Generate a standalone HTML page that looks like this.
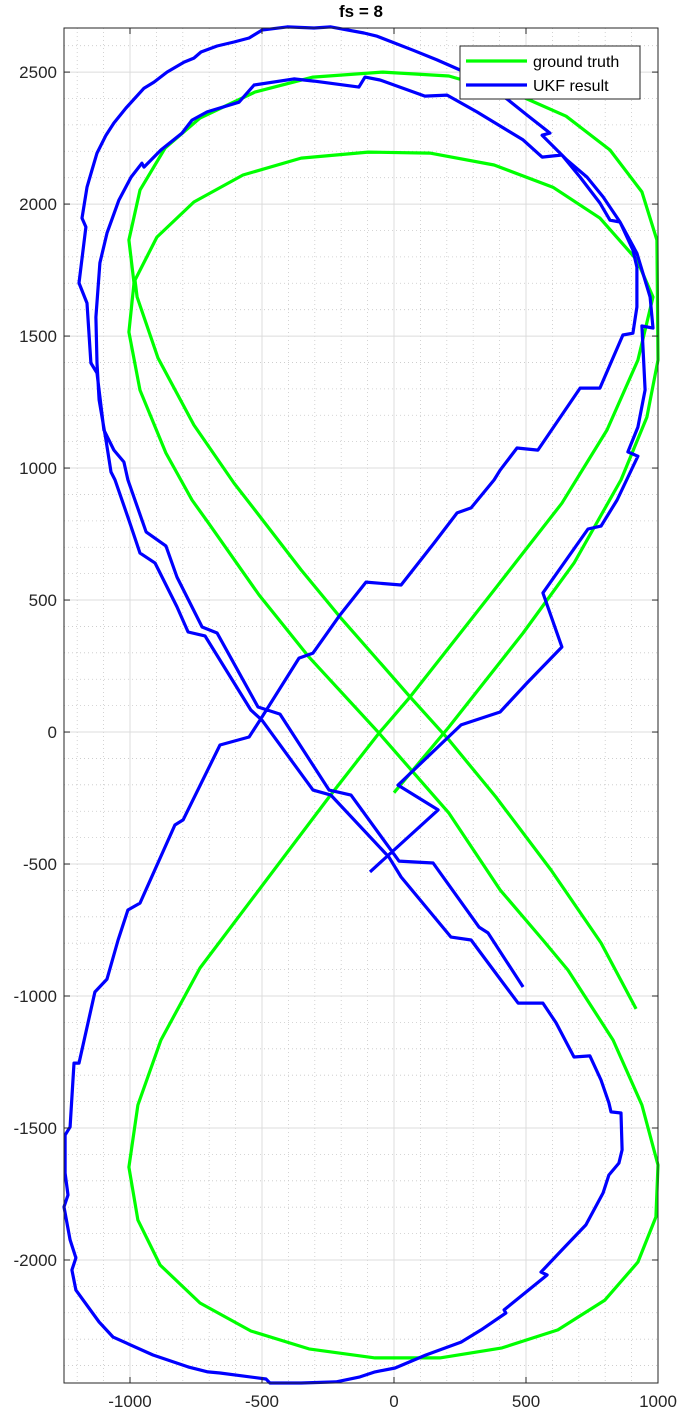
<!DOCTYPE html>
<html><head><meta charset="utf-8"><style>
html,body{margin:0;padding:0;background:#fff;}
svg{display:block;font-family:"Liberation Sans",Arial,sans-serif;}
</style></head><body>
<svg id="chart" width="682" height="1416" viewBox="0 0 682 1416" xmlns="http://www.w3.org/2000/svg">
<rect x="0" y="0" width="682" height="1416" fill="#fff"/>
<text x="361" y="17" text-anchor="middle" font-size="17" font-weight="bold" fill="#000">fs = 8</text>
<g id="grid"></g>
<g id="series"></g>
<g id="axes"></g>
<g id="legend">
<rect x="460" y="46" width="180" height="53" fill="#fff" stroke="#262626" stroke-width="1"/>
<line x1="466" y1="61" x2="527" y2="61" stroke="#00ff00" stroke-width="3.2"/>
<text x="533" y="67" font-size="16" fill="#000">ground truth</text>
<line x1="466" y1="85" x2="527" y2="85" stroke="#0000ff" stroke-width="3.2"/>
<text x="533" y="91" font-size="16" fill="#000">UKF result</text>
</g>
</svg>
<script>
const xTicks=[-1000,-500,0,500,1000];
const yTicks=[-2000,-1500,-1000,-500,0,500,1000,1500,2000,2500];
const gtX=[0,208,489,682,860,958,1000,996,939,818,652,496,208,-42,-307,-527,-735,-867,-962,-1004,-985,-1004,-962,-864,-765,-705,-511,-322,-57,208,402,564,659,830,939,1000,992,924,799,621,409,174,-72,-322,-542,-735,-886,-970,-1004,-970,-883,-735,-246,-57,61,356,636,807,924,981,920,780,602,379,136,-98,-352,-572,-758,-898,-981,-973,-894,-758,-606,-527,-352,-205,61,208,386,595,784,917];
const gtY=[-230,19,375,640,955,1193,1409,1864,2046,2205,2333,2402,2485,2500,2481,2424,2326,2212,2053,1864,1701,1515,1295,1057,879,795,519,284,-4,-307,-598,-788,-902,-1167,-1413,-1640,-1837,-2008,-2152,-2265,-2333,-2371,-2371,-2337,-2269,-2163,-2019,-1849,-1648,-1413,-1167,-894,-246,-4,133,508,867,1144,1409,1648,1788,1947,2064,2148,2193,2197,2174,2110,2008,1875,1712,1648,1417,1163,943,841,614,436,133,-30,-246,-523,-799,-1049];
const ukfX=[-91,167,15,254,402,504,636,564,735,784,845,924,886,924,951,939,981,970,920,856,818,780,705,636,561,489,314,201,117,-53,-110,-133,-303,-379,-530,-587,-708,-765,-803,-883,-947,-955,-996,-1042,-1087,-1114,-1129,-1125,-1117,-1091,-1072,-1057,-1008,-962,-905,-822,-780,-716,-542,-500,-307,-239,-19,27,216,292,371,470,564,614,682,742,784,814,822,860,864,852,814,792,727,636,557,580,417,424,330,254,121,4,-72,-129,-220,-352,-470,-485,-659,-705,-780,-913,-1064,-1117,-1205,-1220,-1205,-1227,-1250,-1235,-1246,-1246,-1227,-1212,-1193,-1133,-1087,-1045,-1008,-962,-830,-799,-659,-549,-500,-360,-307,-205,-106,27,152,239,292,379,402,466,545,705,780,867,905,920,920,905,856,792,731,655,561,591,504,428,250,163,72,-64,-114,-239,-303,-405,-500,-549,-606,-670,-731,-758,-795,-860,-909,-947,-1015,-1061,-1091,-1125,-1144,-1163,-1182,-1167,-1193,-1163,-1148,-1125,-1099,-1061,-1023,-1008,-939,-864,-822,-727,-670,-515,-432,-246,-163,19,148,322,356,489];
const ukfY=[-530,-295,-201,27,76,186,322,527,769,780,879,1045,1061,1155,1296,1538,1530,1648,1814,1932,1939,2004,2102,2186,2178,2243,2349,2413,2409,2470,2481,2443,2466,2474,2451,2386,2349,2318,2269,2205,2140,2155,2102,2015,1890,1777,1572,1398,1258,1106,985,955,814,678,640,474,379,364,83,45,-220,-239,-474,-549,-777,-788,-894,-1027,-1027,-1102,-1231,-1227,-1318,-1405,-1439,-1443,-1583,-1633,-1678,-1746,-1867,-1962,-2046,-2057,-2189,-2201,-2265,-2311,-2360,-2409,-2424,-2443,-2462,-2466,-2466,-2451,-2428,-2424,-2405,-2360,-2292,-2235,-2114,-2038,-1992,-1924,-1799,-1754,-1671,-1527,-1496,-1254,-1254,-985,-936,-788,-674,-648,-352,-333,-49,-19,57,280,299,443,568,557,716,830,849,955,992,1076,1068,1303,1303,1504,1511,1610,1761,1826,1932,2027,2102,2167,2261,2269,2337,2398,2508,2546,2583,2636,2648,2671,2667,2671,2659,2629,2614,2599,2576,2553,2538,2500,2462,2439,2364,2307,2261,2193,2129,2064,1947,1913,1701,1625,1398,1360,1144,1068,1023,955,758,705,587,398,375,95,68,-220,-239,-489,-496,-739,-761,-966];

const L=64,R=658,T=28,B=1383;
const xMin=-1250,xMax=1000,yMin=-2466,yMax=2667;
function sx(v){return L+(v-xMin)/(xMax-xMin)*(R-L);}
function sy(v){return B-(v-yMin)/(yMax-yMin)*(B-T);}
const NS="http://www.w3.org/2000/svg";
function mk(tag,attrs,parent){const e=document.createElementNS(NS,tag);for(const k in attrs)e.setAttribute(k,attrs[k]);parent.appendChild(e);return e;}
const grid=document.getElementById('grid'),axes=document.getElementById('axes'),series=document.getElementById('series');
// minor grid every 100
for(let v=-1200;v<=1000;v+=100){if(v%500===0)continue;const g=mk('line',{x1:sx(v),x2:sx(v),y1:T,y2:B,stroke:'#c8c8c8','stroke-width':0.8,'stroke-dasharray':'1,3'},grid);

}
for(let v=-2400;v<=2600;v+=100){if(v%500===0)continue;const g=mk('line',{x1:L,x2:R,y1:sy(v),y2:sy(v),stroke:'#c8c8c8','stroke-width':0.8,'stroke-dasharray':'1,3'},grid);

}
xTicks.forEach(v=>{const g=mk('line',{x1:sx(v),x2:sx(v),y1:T,y2:B,stroke:'#dcdcdc','stroke-width':1},grid);


const t1=mk('line',{x1:sx(v),x2:sx(v),y1:B,y2:B-6,stroke:'#262626','stroke-width':1},axes);


const t2=mk('line',{x1:sx(v),x2:sx(v),y1:T,y2:T+6,stroke:'#262626','stroke-width':1},axes);


const lb=mk('text',{x:sx(v),y:1407,'text-anchor':'middle','font-size':17,fill:'#262626'},axes);lb.textContent=v;

});
yTicks.forEach(v=>{const g=mk('line',{x1:L,x2:R,y1:sy(v),y2:sy(v),stroke:'#dcdcdc','stroke-width':1},grid);


const t1=mk('line',{x1:L,x2:L+6,y1:sy(v),y2:sy(v),stroke:'#262626','stroke-width':1},axes);


const t2=mk('line',{x1:R,x2:R-6,y1:sy(v),y2:sy(v),stroke:'#262626','stroke-width':1},axes);


const lb=mk('text',{x:57,y:sy(v)+6,'text-anchor':'end','font-size':17,fill:'#262626'},axes);lb.textContent=v;

});
const box=mk('rect',{x:L,y:T,width:R-L,height:B-T,fill:'none',stroke:'#262626','stroke-width':1},axes);


function pts(xs,ys){return xs.map((x,i)=>sx(x).toFixed(1)+','+sy(ys[i]).toFixed(1)).join(' ');}
const g1=mk('polyline',{points:pts(gtX,gtY),fill:'none',stroke:'#00ff00','stroke-width':3.2,'stroke-linejoin':'round'},series);


const g2=mk('polyline',{points:pts(ukfX,ukfY),fill:'none',stroke:'#0000ff','stroke-width':3.2,'stroke-linejoin':'round'},series);


</script>
</body></html>
